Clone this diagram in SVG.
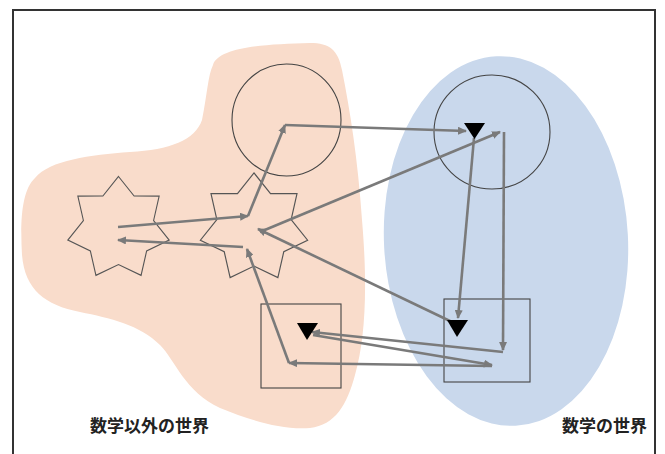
<svg xmlns="http://www.w3.org/2000/svg" width="665" height="454" viewBox="0 0 665 454">
<style>
.frame{fill:none;stroke:#333;stroke-width:2}
.outline{fill:none;stroke:#444;stroke-width:1.1}
.star{fill:none;stroke:#555;stroke-width:1.1}
.tri{fill:#000}
.conn{fill:none;stroke:#7a7a7a;stroke-width:2.6;marker-end:url(#ah)}
.label{font-family:"Noto Sans CJK JP","Noto Sans CJK SC",sans-serif;font-size:17px;font-weight:bold;fill:#222}
</style>
<defs>
<marker id="ah" markerUnits="userSpaceOnUse" markerWidth="9" markerHeight="8" refX="8" refY="4" orient="auto">
<path d="M0,0 L9,4 L0,8 z" fill="#7a7a7a"/>
</marker>
<polygon id="starShape" points="0,-52 15.62,-32.44 40.65,-32.42 35.1,-8.01 50.69,11.57 28.14,22.45 22.56,46.85 0,36 -22.56,46.85 -28.14,22.45 -50.69,11.57 -35.1,-8.01 -40.65,-32.42 -15.62,-32.44"/>
</defs>
<rect width="665" height="454" fill="#fff"/>
<rect class="frame" x="13" y="10" width="642" height="460"/>
<g id="world-nonmath">
<path d="M213,65 C218,48 262,44 310,43 C330,43 338,50 342,70 C350,110 358,160 362,220 C368,290 365,340 355,375 C347,405 335,425 310,428 C280,430 250,420 220,408 C185,392 175,360 160,345 C140,325 110,318 80,312 C45,305 25,290 22,255 C20,220 22,190 35,178 C50,160 90,155 130,152 C170,150 195,140 202,120 C207,95 208,75 213,65 Z" fill="#f9dccb"/>
</g>
<g id="world-math">
<ellipse cx="506" cy="241" rx="122" ry="185" fill="#c9d8ec" transform="rotate(-3 506 241)"/>
</g>
<g id="circle-nonmath"><ellipse class="outline" cx="286.5" cy="120" rx="54.5" ry="56"/></g>
<g id="circle-math"><ellipse class="outline" cx="492" cy="132" rx="58" ry="57"/></g>
<g id="star-1"><use href="#starShape" class="star" transform="translate(118.5,228.5)"/></g>
<g id="star-2"><use href="#starShape" class="star" transform="translate(254,228) scale(1.058)" style="vector-effect:non-scaling-stroke"/></g>
<g id="square-nonmath"><rect class="outline" x="261" y="304" width="80" height="84"/></g>
<g id="square-math"><rect class="outline" x="444" y="299" width="86" height="83"/></g>
<g id="connectors">
<line class="conn" x1="118" y1="227" x2="248" y2="216"/>
<line class="conn" x1="248" y1="216" x2="285" y2="125"/>
<line class="conn" x1="285" y1="125" x2="466" y2="131"/>
<line class="conn" x1="474" y1="138" x2="458" y2="318"/>
<line class="conn" x1="452" y1="322" x2="258" y2="229"/>
<line class="conn" x1="260" y1="232" x2="500" y2="132"/>
<line class="conn" x1="504" y1="132" x2="503" y2="350"/>
<line class="conn" x1="503" y1="352" x2="312" y2="332"/>
<line class="conn" x1="313" y1="335" x2="492" y2="365"/>
<line class="conn" x1="492" y1="366" x2="289" y2="363"/>
<line class="conn" x1="289" y1="363" x2="247" y2="249"/>
<line class="conn" x1="243" y1="247" x2="118" y2="240"/>
</g>
<g id="tri-math-top"><polygon class="tri" points="464,123 485,123 474.5,139"/></g>
<g id="tri-math-bottom"><polygon class="tri" points="447,320 468,320 457,337"/></g>
<g id="tri-nonmath"><polygon class="tri" points="297,323 318,323 307,340"/></g>
<g id="labels">
<text class="label" x="90" y="432">数学以外の世界</text>
<text class="label" x="562" y="432">数学の世界</text>
</g>
</svg>
